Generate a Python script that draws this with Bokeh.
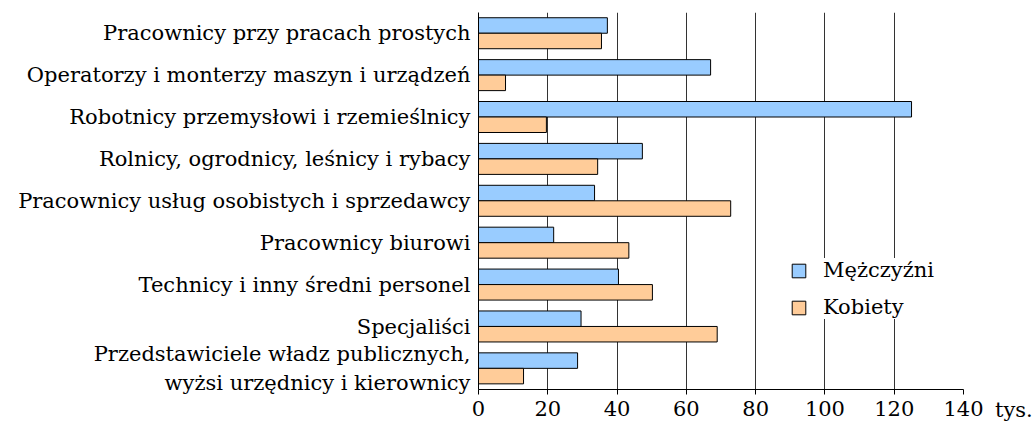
from bokeh.plotting import figure
from bokeh.models import ColumnDataSource, FactorRange, Legend, LegendItem, FixedTicker, Div
from bokeh.layouts import row
from bokeh.transform import dodge
from bokeh.embed import file_html
from bokeh.resources import INLINE

categories = [
    "Pracownicy przy pracach prostych",
    "Operatorzy i monterzy maszyn i urządzeń",
    "Robotnicy przemysłowi i rzemieślnicy",
    "Rolnicy, ogrodnicy, leśnicy i rybacy",
    "Pracownicy usług osobistych i sprzedawcy",
    "Pracownicy biurowi",
    "Technicy i inny średni personel",
    "Specjaliści",
    "Przedstawiciele władz publicznych,\nwyżsi urzędnicy i kierownicy",
]
men = [37.2, 67.0, 125.0, 47.3, 33.5, 21.7, 40.4, 29.6, 28.6]
women = [35.5, 7.8, 19.6, 34.4, 72.8, 43.4, 50.2, 68.9, 13.0]
x_ticks = [0, 20, 40, 60, 80, 100, 120, 140]
series_names = ["Mężczyźni", "Kobiety"]
unit_label = "tys."

FONT = "DejaVu Serif"
FS = "21px"

src = ColumnDataSource(dict(cat=categories, men=men, women=women))

p = figure(
    width=990, height=423,
    y_range=FactorRange(factors=list(reversed(categories)), range_padding=0),
    x_range=(0, 140),
    output_backend="svg", toolbar_location=None,
    min_border_left=478, min_border_right=27, min_border_top=12, min_border_bottom=34,
)
p.outline_line_color = None
p.background_fill_color = "white"
p.border_fill_color = "white"

r_m = p.hbar(y=dodge("cat", 0.19, range=p.y_range), right="men", left=0, height=0.37,
             source=src, fill_color="#99CCFF", line_color="black", line_width=1)
r_w = p.hbar(y=dodge("cat", -0.18, range=p.y_range), right="women", left=0, height=0.37,
             source=src, fill_color="#FFCC99", line_color="black", line_width=1)

p.ygrid.grid_line_color = None
p.xgrid.grid_line_color = "#333333"
p.xgrid.grid_line_width = 1
p.xgrid.ticker = FixedTicker(ticks=x_ticks)

p.xaxis.ticker = FixedTicker(ticks=x_ticks)
p.xaxis.major_label_text_font = FONT
p.xaxis.major_label_text_font_size = FS
p.xaxis.major_label_text_color = "black"
p.xaxis.axis_line_color = "black"
p.xaxis.major_tick_line_color = "black"
p.xaxis.major_tick_out = 5
p.xaxis.major_tick_in = 0
p.xaxis.minor_tick_line_color = None
p.xaxis.major_label_standoff = 6

p.yaxis.major_label_text_font = FONT
p.yaxis.major_label_text_font_size = FS
p.yaxis.major_label_text_color = "black"
p.yaxis.axis_line_color = "black"
p.yaxis.major_tick_line_color = None
p.yaxis.major_tick_out = 0
p.yaxis.major_tick_in = 0
p.yaxis.major_label_standoff = 8

legend = Legend(
    items=[LegendItem(label=series_names[0], renderers=[r_m]),
           LegendItem(label=series_names[1], renderers=[r_w])],
    location=(312, 70),
    label_text_font=FONT, label_text_font_size=FS, label_text_color="black",
    glyph_width=17, glyph_height=17, spacing=13, padding=8, margin=0,
    border_line_color=None, background_fill_color="white", background_fill_alpha=1.0,
    label_standoff=16,
)
p.add_layout(legend, "center")

unit = Div(text=unit_label, width=44, height=423,
           styles={"font-family": FONT, "font-size": FS, "color": "black",
                   "padding-top": "393px", "line-height": "1.2"})

layout = row(p, unit, spacing=0)

open("out.html", "w").write(file_html(layout, INLINE))
